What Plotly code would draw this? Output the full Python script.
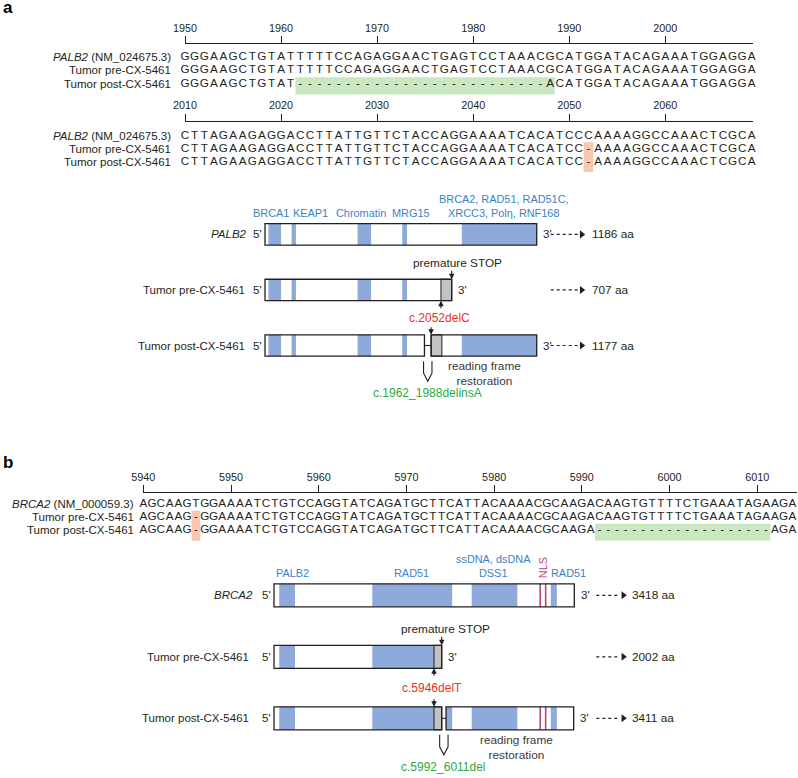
import plotly.graph_objects as go

W, H = 798, 778
FONT = "Arial, 'Liberation Sans', Helvetica, sans-serif"
INK = "#231f20"
BLUE_TXT = "#3b83c6"
DOMAIN = "#8eaadb"
STOP_GRAY = "#c3c3c3"
RED = "#e8302a"
GREEN = "#2eaa3c"
NLS_C = "#b9467a"
HL = {"green": "#c9e7c1", "orange": "#f9c6ae"}

# ---------------- DATA: sequence alignments ----------------
seq_rows_a = ["<i>PALB2</i> (NM_024675.3)", "Tumor pre-CX-5461", "Tumor post-CX-5461"]
seq_rows_b = ["<i>BRCA2</i> (NM_000059.3)", "Tumor pre-CX-5461", "Tumor post-CX-5461"]

palb2_block1_start = 1950
palb2_block1 = [
    "GGGAAGCTGTATTTTTCCAGAGGAACTGAGTCCTAAACGCATGGATACAGAAATGGAGGA",
    "GGGAAGCTGTATTTTTCCAGAGGAACTGAGTCCTAAACGCATGGATACAGAAATGGAGGA",
    "GGGAAGCTGTAT--------------------------ACATGGATACAGAAATGGAGGA",
]
palb2_block1_ticks = [1950, 1960, 1970, 1980, 1990, 2000]
palb2_block1_marks = [(1962, 1988, [2], "green")]

palb2_block2_start = 2010
palb2_block2 = [
    "CTTAGAAGAGGACCTTATTGTTCTACCAGGAAAATCACATCCCAAAAGGCCAAACTCGCA",
    "CTTAGAAGAGGACCTTATTGTTCTACCAGGAAAATCACATCC-AAAAGGCCAAACTCGCA",
    "CTTAGAAGAGGACCTTATTGTTCTACCAGGAAAATCACATCC-AAAAGGCCAAACTCGCA",
]
palb2_block2_ticks = [2010, 2020, 2030, 2040, 2050, 2060]
palb2_block2_marks = [(2052, 2052, [1, 2], "orange")]

brca2_block_start = 5940
brca2_block = [
    "AGCAAGTGGAAAATCTGTCCAGGTATCAGATGCTTCATTACAAAACGCAAGACAAGTGTTTTCTGAAATAGAAGA",
    "AGCAAG-GGAAAATCTGTCCAGGTATCAGATGCTTCATTACAAAACGCAAGACAAGTGTTTTCTGAAATAGAAGA",
    "AGCAAG-GGAAAATCTGTCCAGGTATCAGATGCTTCATTACAAAACGCAAGA--------------------AGA",
]
brca2_block_ticks = [5940, 5950, 5960, 5970, 5980, 5990, 6000, 6010]
brca2_block_marks = [(5946, 5946, [1, 2], "orange"), (5992, 6011, [2], "green")]

# ---------------- DATA: protein schematics (aa) ----------------
palb2_len = 1186
palb2_domain_names = ["BRCA1", "KEAP1", "Chromatin", "MRG15",
                      "BRCA2, RAD51, RAD51C,<br>XRCC3, Polη, RNF168"]
palb2_domain_start = [15, 116, 404, 599, 859]
palb2_domain_end = [70, 135, 463, 620, 1186]
palb2_row_names = ["<i>PALB2</i>", "Tumor pre-CX-5461", "Tumor post-CX-5461"]
palb2_row_aa = [1186, 707, 1177]
palb2_row_parts = [[(0, 1186)], [(0, 815)], [(0, 696), (725, 1186)]]
palb2_row_stop = [None, (768, 815), (725, 772)]
palb2_nls = []
palb2_mut_frameshift = "c.2052delC"
palb2_mut_restore = "c.1962_1988delinsA"

brca2_len = 3418
brca2_domain_names = ["PALB2", "RAD51", "ssDNA, dsDNA<br>DSS1", "RAD51"]
brca2_domain_start = [60, 1119, 2250, 3150]
brca2_domain_end = [239, 2028, 2769, 3219]
brca2_nls = [3030, 3092]
brca2_row_names = ["<i>BRCA2</i>", "Tumor pre-CX-5461", "Tumor post-CX-5461"]
brca2_row_aa = [3418, 2002, 3411]
brca2_row_parts = [[(0, 3418)], [(0, 1909)], [(0, 1909), (1958, 3411)]]
brca2_row_stop = [None, (1821, 1909), (1821, 1909)]
brca2_mut_frameshift = "c.5946delT"
brca2_mut_restore = "c.5992_6011del"

# ---------------- figure ----------------
fig = go.Figure()
axes = {}
ann = []
shapes = []


def sfx(i):
    return "" if i == 1 else str(i)


def tfont(size, color=INK):
    return dict(family=FONT, size=size, color=color)


seq_blocks = [
    dict(seqs=palb2_block1, start=palb2_block1_start, ticks=palb2_block1_ticks,
         marks=palb2_block1_marks, labels=seq_rows_a,
         line_px=(185, 752.7), spacing=9.606, ruler_y=44.3, row_off=12.9, dr=13.3, gap=12.3),
    dict(seqs=palb2_block2, start=palb2_block2_start, ticks=palb2_block2_ticks,
         marks=palb2_block2_marks, labels=seq_rows_a,
         line_px=(185, 752.7), spacing=9.606, ruler_y=121.7, row_off=14.0, dr=13.0, gap=12.3),
    dict(seqs=brca2_block, start=brca2_block_start, ticks=brca2_block_ticks,
         marks=brca2_block_marks, labels=seq_rows_b,
         line_px=(143.3, 796.7), spacing=8.771, ruler_y=493.3, row_off=11.0, dr=13.0, gap=7.0),
]

DEPTH = 62
for bi, blk in enumerate(seq_blocks, start=1):
    xa, ya = "x" + sfx(bi), "y" + sfx(bi)
    xL, xR = blk["line_px"]
    xr = [blk["start"], blk["start"] + (xR - xL) / blk["spacing"]]
    off, dr, ruler = blk["row_off"], blk["dr"], blk["ruler_y"]
    axes["xaxis" + sfx(bi)] = dict(
        domain=[xL / W, xR / W], range=xr, anchor=ya, side="top", automargin=False,
        showline=True, linecolor=INK, linewidth=1.2, ticks="outside", ticklen=7,
        tickwidth=1.2, tickcolor=INK, tickvals=blk["ticks"], tickfont=tfont(10.8),
        showgrid=False, zeroline=False, fixedrange=True)
    axes["yaxis" + sfx(bi)] = dict(
        domain=[1 - (ruler + DEPTH) / H, 1 - ruler / H], automargin=False,
        range=[(DEPTH - off) / dr, -off / dr], anchor=xa, visible=False, fixedrange=True)
    for r, s in enumerate(blk["seqs"]):
        fig.add_trace(go.Scatter(
            x=[blk["start"] + i for i in range(len(s))], y=[r] * len(s), mode="text",
            text=list(s), textposition="middle center", textfont=tfont(11.7),
            cliponaxis=False, hoverinfo="skip", showlegend=False, xaxis=xa, yaxis=ya))
        ann.append(dict(xref="paper", yref=ya, x=(xL - blk["gap"]) / W, y=r,
                        text=blk["labels"][r], xanchor="right", yanchor="middle",
                        showarrow=False, font=tfont(11.5)))
    for (a, b, rows, kind) in blk["marks"]:
        shapes.append(dict(type="rect", xref=xa, yref=ya, x0=a - 0.5, x1=b + 0.5,
                           y0=min(rows) - 0.5, y1=max(rows) + 0.8,
                           fillcolor=HL[kind], line=dict(width=0), layer="below"))


def x_range(v0, p0, v1, p1):
    s = (p1 - p0) / (v1 - v0)
    return [v0 - p0 / s, v0 + (W - p0) / s], s


def y_range(v0, p0, v1, p1):
    s = (p1 - p0) / (v1 - v0)
    return [v0 + (H - p0) / s, v0 - p0 / s], s


def protein(idx, P):
    xa, ya = "x" + sfx(idx), "y" + sfx(idx)
    xr, s = x_range(0, P["box_px"][0], P["length"], P["box_px"][1])
    yr, dr = y_range(0, P["row_px"][0], 2, P["row_px"][1])
    axes["xaxis" + sfx(idx)] = dict(domain=[0, 1], range=xr, anchor=ya, visible=False,
                                    automargin=False, fixedrange=True)
    axes["yaxis" + sfx(idx)] = dict(domain=[0, 1], range=yr, anchor=xa, visible=False,
                                    automargin=False, fixedrange=True)
    hh = P["hh_px"] / dr
    L = P["length"]
    dot_x, dot_y, head_x, head_y = [], [], [], []
    for r, parts in enumerate(P["parts"]):
        stop = P["stops"][r]
        for (a, b) in parts:
            shapes.append(dict(type="rect", xref=xa, yref=ya, x0=a, x1=b, y0=r - hh, y1=r + hh,
                               fillcolor="white", line=dict(width=0)))
        vis = []
        for (a, b) in parts:
            if stop and stop[0] < b and stop[1] > a:
                if stop[0] > a:
                    vis.append((a, stop[0]))
                if stop[1] < b:
                    vis.append((stop[1], b))
            else:
                vis.append((a, b))
        for ds, de in zip(P["dstart"], P["dend"]):
            for (a, b) in vis:
                lo, hi = max(ds, a), min(de, b)
                if hi > lo:
                    shapes.append(dict(type="rect", xref=xa, yref=ya, x0=lo, x1=hi,
                                       y0=r - hh, y1=r + hh, fillcolor=DOMAIN, line=dict(width=0)))
        for n in P["nls"]:
            if any(a <= n <= b for (a, b) in vis):
                shapes.append(dict(type="line", xref=xa, yref=ya, x0=n, x1=n, y0=r - hh, y1=r + hh,
                                   line=dict(color=NLS_C, width=1.6)))
        if stop:
            shapes.append(dict(type="rect", xref=xa, yref=ya, x0=stop[0], x1=stop[1],
                               y0=r - hh, y1=r + hh, fillcolor=STOP_GRAY,
                               line=dict(color=INK, width=1)))
        for (a, b) in parts:
            shapes.append(dict(type="rect", xref=xa, yref=ya, x0=a, x1=b, y0=r - hh, y1=r + hh,
                               line=dict(color=INK, width=1.3)))
        for (a1, b1), (a2, b2) in zip(parts[:-1], parts[1:]):
            shapes.append(dict(type="line", xref=xa, yref=ya, x0=b1, x1=a2, y0=r, y1=r,
                               line=dict(color=INK, width=1.1)))
        ann.append(dict(xref=xa, yref=ya, x=0, y=r, xshift=P["name_shift"][r], text=P["names"][r],
                        xanchor="right", yanchor="middle", showarrow=False, font=tfont(11.5)))
        ann.append(dict(xref=xa, yref=ya, x=0, y=r, xshift=-1.5, text="5'",
                        xanchor="right", yanchor="middle", showarrow=False, font=tfont(11.5)))
        ann.append(dict(xref=xa, yref=ya, x=parts[-1][1], y=r, xshift=4.5, text="3'",
                        xanchor="left", yanchor="middle", showarrow=False, font=tfont(11.5)))
        d0, d1, dt = P["aa_arrow_px"]
        dot_x += [L + d0 / s, L + (d1 - 3) / s, None]
        dot_y += [r, r, None]
        head_x.append(L + d1 / s)
        head_y.append(r)
        ann.append(dict(xref=xa, yref=ya, x=L + dt / s, y=r, text=f"{P['aa'][r]} aa",
                        xanchor="left", yanchor="middle", showarrow=False, font=tfont(11.8)))
    fig.add_trace(go.Scatter(x=dot_x, y=dot_y, mode="lines", xaxis=xa, yaxis=ya,
                             line=dict(color=INK, width=1.2, dash="dot"),
                             hoverinfo="skip", showlegend=False, cliponaxis=False))
    fig.add_trace(go.Scatter(x=head_x, y=head_y, mode="markers", xaxis=xa, yaxis=ya,
                             marker=dict(symbol="triangle-right", size=7, color=INK),
                             hoverinfo="skip", showlegend=False, cliponaxis=False))
    for name, lx in zip(P["dnames"], P["label_x"]):
        ann.append(dict(xref=xa, yref=ya, x=lx, y=-hh, yshift=3, text=name, xanchor="center",
                        yanchor="bottom", showarrow=False, font=tfont(10.9, BLUE_TXT)))
    if P["nls"]:
        ann.append(dict(xref=xa, yref=ya, x=sum(P["nls"]) / len(P["nls"]), y=-hh, yshift=16.5,
                        text="NLS", textangle=-90, xanchor="center", yanchor="middle",
                        showarrow=False, font=tfont(10.9, NLS_C)))
    st = P["stops"][1]
    ann.append(dict(xref=xa, yref=ya, x=st[1], y=1 - hh, xshift=P["stop_dx"], yshift=16.5,
                    text="premature STOP", xanchor="center", yanchor="middle",
                    showarrow=False, font=tfont(11.8)))
    arr = dict(text="", showarrow=True, arrowhead=2, arrowsize=1, arrowwidth=1.1,
               arrowcolor=INK, standoff=0, ax=0)
    ann.append(dict(arr, xref=xa, yref=ya, x=st[1], y=1 - hh, ay=-10))
    ann.append(dict(xref=xa, yref=ya, x=st[0], y=1.5, xshift=P["mut_dx"], text=P["mut1"],
                    xanchor="center", yanchor="middle", showarrow=False, font=tfont(12, RED)))
    ann.append(dict(arr, xref=xa, yref=ya, x=st[0], y=1 + hh, ay=9))
    ann.append(dict(arr, xref=xa, yref=ya, x=P["stops"][2][0], y=2 - hh, ay=-9))
    gap_c = (P["parts"][2][0][1] + P["parts"][2][1][0]) / 2
    w = 4.2 / s
    ytop = 2 + hh + 5 / dr
    ysh = ytop + 12 / dr
    ybot = ytop + 20 / dr
    shapes.append(dict(type="path", xref=xa, yref=ya,
                       path=f"M {gap_c - w},{ytop} L {gap_c - w},{ysh} L {gap_c},{ybot} "
                            f"L {gap_c + w},{ysh} L {gap_c + w},{ytop}",
                       line=dict(color=INK, width=1.1)))
    ann.append(dict(xref=xa, yref=ya, x=gap_c, y=ybot, yshift=-3, text=P["mut2"],
                    xanchor="center", yanchor="top", showarrow=False, font=tfont(12, GREEN)))
    ann.append(dict(xref=xa, yref=ya, x=P["restore_x"], y=2 + hh, yshift=-1,
                    text="reading frame<br>restoration", xanchor="center", yanchor="top",
                    showarrow=False, font=tfont(11.8, "#3a3a3a")))


protein(4, dict(length=palb2_len, box_px=(265, 536.7), row_px=(234.4, 345.5), hh_px=10.7,
                parts=palb2_row_parts, stops=palb2_row_stop, aa=palb2_row_aa,
                names=palb2_row_names, name_shift=[-16, -18, -18],
                dnames=palb2_domain_names, dstart=palb2_domain_start, dend=palb2_domain_end,
                label_x=[24, 199, 418, 636, 1043], nls=palb2_nls,
                aa_arrow_px=(14, 45, 53), stop_dx=6, mut_dx=-1,
                mut1=palb2_mut_frameshift, mut2=palb2_mut_restore, restore_x=956))

protein(5, dict(length=brca2_len, box_px=(274, 574.3), row_px=(595.3, 718.3), hh_px=11.5,
                parts=brca2_row_parts, stops=brca2_row_stop, aa=brca2_row_aa,
                names=brca2_row_names, name_shift=[-19, -23, -23],
                dnames=brca2_domain_names, dstart=brca2_domain_start, dend=brca2_domain_end,
                label_x=[213, 1567, 2496, 3350], nls=brca2_nls,
                aa_arrow_px=(22, 49, 56), stop_dx=3.3, mut_dx=-2.3,
                mut1=brca2_mut_frameshift, mut2=brca2_mut_restore, restore_x=2762))

ann.append(dict(xref="paper", yref="paper", x=1 / W, y=1 - 8 / H, text="<b>a</b>",
                xanchor="left", yanchor="middle", showarrow=False, font=tfont(17, "black")))
ann.append(dict(xref="paper", yref="paper", x=1 / W, y=1 - 462 / H, text="<b>b</b>",
                xanchor="left", yanchor="middle", showarrow=False, font=tfont(17, "black")))

fig.update_layout(
    template="none",
    width=W, height=H, margin=dict(l=0, r=0, t=0, b=0, pad=0, autoexpand=False),
    paper_bgcolor="white", plot_bgcolor="rgba(0,0,0,0)",
    showlegend=False, annotations=ann, shapes=shapes, font=tfont(11.5), **axes)

fig.write_html("out.html", config={"displayModeBar": False},
               post_script="document.body.style.margin='0px';")
